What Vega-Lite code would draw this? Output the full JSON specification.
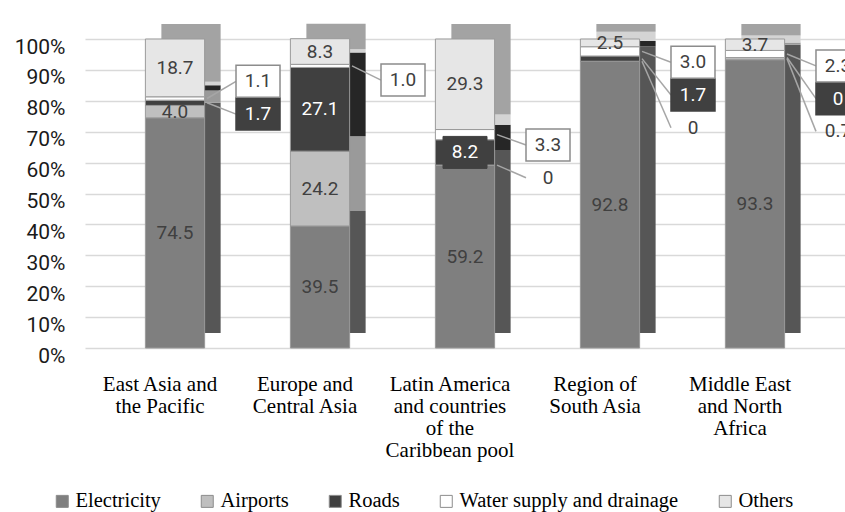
{
  "$schema": "https://vega.github.io/schema/vega-lite/v6.json",
  "autosize": {"type": "none"},
  "width": 760,
  "height": 309,
  "padding": {"left": 85, "top": 39, "right": 0, "bottom": 164},
  "background": "#ffffff",
  "data": {
    "values": [
      {"region": "East Asia and the Pacific", "series": "Electricity", "value": 74.5},
      {"region": "East Asia and the Pacific", "series": "Airports", "value": 4.0},
      {"region": "East Asia and the Pacific", "series": "Roads", "value": 1.7},
      {"region": "East Asia and the Pacific", "series": "Water supply and drainage", "value": 1.1},
      {"region": "East Asia and the Pacific", "series": "Others", "value": 18.7},
      {"region": "Europe and Central Asia", "series": "Electricity", "value": 39.5},
      {"region": "Europe and Central Asia", "series": "Airports", "value": 24.2},
      {"region": "Europe and Central Asia", "series": "Roads", "value": 27.1},
      {"region": "Europe and Central Asia", "series": "Water supply and drainage", "value": 1.0},
      {"region": "Europe and Central Asia", "series": "Others", "value": 8.3},
      {"region": "Latin America and countries of the Caribbean pool", "series": "Electricity", "value": 59.2},
      {"region": "Latin America and countries of the Caribbean pool", "series": "Airports", "value": 0},
      {"region": "Latin America and countries of the Caribbean pool", "series": "Roads", "value": 8.2},
      {"region": "Latin America and countries of the Caribbean pool", "series": "Water supply and drainage", "value": 3.3},
      {"region": "Latin America and countries of the Caribbean pool", "series": "Others", "value": 29.3},
      {"region": "Region of South Asia", "series": "Electricity", "value": 92.8},
      {"region": "Region of South Asia", "series": "Airports", "value": 0},
      {"region": "Region of South Asia", "series": "Roads", "value": 1.7},
      {"region": "Region of South Asia", "series": "Water supply and drainage", "value": 3.0},
      {"region": "Region of South Asia", "series": "Others", "value": 2.5},
      {"region": "Middle East and North Africa", "series": "Electricity", "value": 93.3},
      {"region": "Middle East and North Africa", "series": "Airports", "value": 0.7},
      {"region": "Middle East and North Africa", "series": "Roads", "value": 0},
      {"region": "Middle East and North Africa", "series": "Water supply and drainage", "value": 2.3},
      {"region": "Middle East and North Africa", "series": "Others", "value": 3.7}
    ]
  },
  "transform": [
    {"calculate": "indexof(['Electricity','Airports','Roads','Water supply and drainage','Others'], datum.series)", "as": "k"},
    {"stack": "value", "groupby": ["region"], "sort": [{"field": "k", "order": "ascending"}], "as": ["v0", "v1"]},
    {"calculate": "(datum.v0 + datum.v1) / 2", "as": "mid"},
    {"calculate": "datum.k == 4 ? datum.value : 0", "as": "ov"},
    {"joinaggregate": [{"op": "sum", "field": "ov", "as": "others"}], "groupby": ["region"]},
    {"calculate": "(datum.k >= 1 && datum.k <= 3 && datum.value < 3.5) ? 1 : 0", "as": "callout"},
    {"window": [{"op": "row_number", "as": "r"}], "groupby": ["region", "callout"], "sort": [{"field": "k", "order": "descending"}]},
    {"calculate": "100 - datum.others - 5 - (datum.r - 1) * 10.6 + (datum.region == 'East Asia and the Pacific' ? 10 : 0)", "as": "ly"},
    {"calculate": "datum.value == 0 ? '0' : format(datum.value, '.1f')", "as": "lbl"}
  ],
  "encoding": {
    "x": {
      "field": "region",
      "type": "nominal",
      "title": null,
      "sort": ["East Asia and the Pacific", "Europe and Central Asia", "Latin America and countries of the Caribbean pool", "Region of South Asia", "Middle East and North Africa"],
      "scale": {"paddingInner": 0.5914, "paddingOuter": 0.4165},
      "axis": {
        "labelExpr": "datum.value == 'East Asia and the Pacific' ? ['East Asia and','the Pacific'] : datum.value == 'Europe and Central Asia' ? ['Europe and','Central Asia'] : datum.value == 'Latin America and countries of the Caribbean pool' ? ['Latin America','and countries','of the','Caribbean pool'] : datum.value == 'Region of South Asia' ? ['Region of','South Asia'] : ['Middle East','and North','Africa']",
        "labelAngle": 0,
        "labelFont": "Liberation Serif",
        "labelFontSize": 21,
        "labelColor": "#000000",
        "labelLineHeight": 22,
        "labelPadding": 25,
        "labelOffset": -15,
        "labelLimit": 300,
        "domain": false,
        "ticks": false,
        "grid": false
      }
    }
  },
  "layer": [
    {
      "mark": {"type": "bar", "xOffset": 16, "yOffset": -15, "y2Offset": -15},
      "encoding": {
        "y": {
          "field": "v0",
          "type": "quantitative",
          "title": null,
          "scale": {"domain": [0, 100], "nice": false},
          "axis": {"values": [0, 10, 20, 30, 40, 50, 60, 70, 80, 90, 100], "labelExpr": "datum.value + '%'", "labelOverlap": false, "labelFont": "Roboto", "labelFontSize": 21, "labelColor": "#1a1a1a", "labelPadding": 20, "labelOffset": 8, "domain": false, "ticks": false, "grid": true, "gridColor": "#d9d9d9", "gridWidth": 1.5, "title": null}
        },
        "y2": {"field": "v1"},
        "color": {
          "field": "series",
          "type": "nominal",
          "scale": {"domain": ["Electricity", "Airports", "Roads", "Water supply and drainage", "Others"], "range": ["#565656", "#9a9a9a", "#262626", "#d4d4d4", "#a3a3a3"]},
          "legend": null
        }
      }
    },
    {
      "mark": {"type": "bar", "stroke": "#9a9a9a", "strokeWidth": 1},
      "encoding": {
        "y": {
          "field": "v0",
          "type": "quantitative",
          "title": null,
          "axis": {"values": [0, 10, 20, 30, 40, 50, 60, 70, 80, 90, 100], "labelExpr": "datum.value + '%'", "labelOverlap": false, "labelFont": "Roboto", "labelFontSize": 21, "labelColor": "#1a1a1a", "labelPadding": 20, "labelOffset": 8, "domain": false, "ticks": false, "grid": true, "gridColor": "#d9d9d9", "gridWidth": 1.5, "title": null}
        },
        "y2": {"field": "v1"},
        "color": {
          "field": "series",
          "type": "nominal",
          "scale": {"domain": ["Electricity", "Airports", "Roads", "Water supply and drainage", "Others"], "range": ["#7f7f7f", "#bfbfbf", "#404040", "#ffffff", "#e6e6e6"]},
          "legend": {
            "title": null,
            "orient": "none",
            "legendX": -33,
            "legendY": 452,
            "direction": "horizontal",
            "symbolType": "square",
            "symbolSize": 144,
            "symbolStrokeColor": "#8c8c8c",
            "symbolStrokeWidth": 1,
            "symbolOpacity": 1,
            "labelFont": "Liberation Serif",
            "labelFontSize": 20.5,
            "labelColor": "#000000",
            "labelOffset": 3,
            "labelLimit": 400,
            "columnPadding": 36,
            "padding": 0
          }
        }
      }
    },
    {
      "transform": [{"filter": "datum.callout == 1"}],
      "mark": {"type": "rule", "xOffset": 32, "x2Offset": 61, "color": "#a6a6a6", "strokeWidth": 1.5},
      "encoding": {
        "x2": {"field": "region"},
        "y": {
          "field": "mid",
          "type": "quantitative",
          "title": null,
          "axis": {"values": [0, 10, 20, 30, 40, 50, 60, 70, 80, 90, 100], "labelExpr": "datum.value + '%'", "labelOverlap": false, "labelFont": "Roboto", "labelFontSize": 21, "labelColor": "#1a1a1a", "labelPadding": 20, "labelOffset": 8, "domain": false, "ticks": false, "grid": true, "gridColor": "#d9d9d9", "gridWidth": 1.5, "title": null}
        },
        "y2": {"field": "ly"}
      }
    },
    {
      "transform": [{"filter": "datum.callout == 1 && datum.k != 1"}],
      "mark": {"type": "point", "shape": "M-1,-0.727H1V0.727H-1Z", "size": 1936, "filled": true, "opacity": 1, "strokeWidth": 1.5, "xOffset": 83},
      "encoding": {
        "y": {
          "field": "ly",
          "type": "quantitative",
          "title": null,
          "axis": {"values": [0, 10, 20, 30, 40, 50, 60, 70, 80, 90, 100], "labelExpr": "datum.value + '%'", "labelOverlap": false, "labelFont": "Roboto", "labelFontSize": 21, "labelColor": "#1a1a1a", "labelPadding": 20, "labelOffset": 8, "domain": false, "ticks": false, "grid": true, "gridColor": "#d9d9d9", "gridWidth": 1.5, "title": null}
        },
        "fill": {"condition": {"test": "datum.k == 2", "value": "#404040"}, "value": "#ffffff"},
        "stroke": {"condition": {"test": "datum.k == 2", "value": "#404040"}, "value": "#8c8c8c"}
      }
    },
    {
      "transform": [{"filter": "datum.callout == 0 && datum.k == 2 && datum.value < 10"}],
      "mark": {"type": "point", "shape": "M-1,-0.727H1V0.727H-1Z", "size": 1936, "filled": true, "opacity": 1, "strokeWidth": 1, "fill": "#404040", "stroke": "#404040"},
      "encoding": {
        "y": {
          "field": "mid",
          "type": "quantitative",
          "title": null,
          "axis": {"values": [0, 10, 20, 30, 40, 50, 60, 70, 80, 90, 100], "labelExpr": "datum.value + '%'", "labelOverlap": false, "labelFont": "Roboto", "labelFontSize": 21, "labelColor": "#1a1a1a", "labelPadding": 20, "labelOffset": 8, "domain": false, "ticks": false, "grid": true, "gridColor": "#d9d9d9", "gridWidth": 1.5, "title": null}
        }
      }
    },
    {
      "transform": [{"filter": "datum.callout == 1"}],
      "mark": {"type": "text", "xOffset": 83, "baseline": "middle", "align": "center", "font": "Roboto", "fontSize": 19},
      "encoding": {
        "y": {
          "field": "ly",
          "type": "quantitative",
          "title": null,
          "axis": {"values": [0, 10, 20, 30, 40, 50, 60, 70, 80, 90, 100], "labelExpr": "datum.value + '%'", "labelOverlap": false, "labelFont": "Roboto", "labelFontSize": 21, "labelColor": "#1a1a1a", "labelPadding": 20, "labelOffset": 8, "domain": false, "ticks": false, "grid": true, "gridColor": "#d9d9d9", "gridWidth": 1.5, "title": null}
        },
        "text": {"field": "lbl"},
        "color": {"condition": {"test": "datum.k == 2", "value": "#ffffff"}, "value": "#404040"}
      }
    },
    {
      "transform": [{"filter": "datum.callout == 0"}],
      "mark": {"type": "text", "baseline": "middle", "align": "center", "font": "Roboto", "fontSize": 19},
      "encoding": {
        "y": {
          "field": "mid",
          "type": "quantitative",
          "title": null,
          "axis": {"values": [0, 10, 20, 30, 40, 50, 60, 70, 80, 90, 100], "labelExpr": "datum.value + '%'", "labelOverlap": false, "labelFont": "Roboto", "labelFontSize": 21, "labelColor": "#1a1a1a", "labelPadding": 20, "labelOffset": 8, "domain": false, "ticks": false, "grid": true, "gridColor": "#d9d9d9", "gridWidth": 1.5, "title": null}
        },
        "text": {"field": "lbl"},
        "color": {"condition": {"test": "datum.k == 2", "value": "#ffffff"}, "value": "#404040"}
      }
    }
  ],
  "resolve": {"scale": {"color": "independent"}, "legend": {"color": "independent"}},
  "config": {
    "view": {"stroke": null},
    "legend": {"labelFont": "Liberation Serif", "labelFontSize": 20.5, "labelColor": "#000000"}
  }
}
